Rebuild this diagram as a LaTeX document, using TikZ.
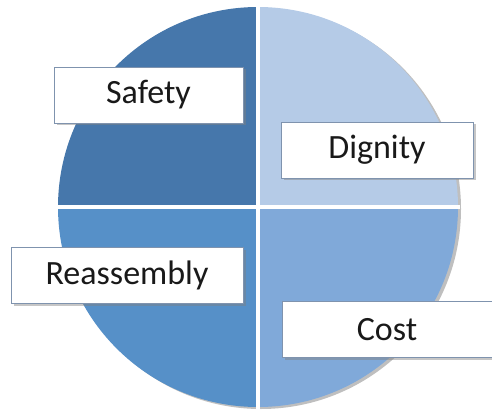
\documentclass[tikz,border=0pt]{standalone}
\usepackage{fontspec}
\setmainfont{Carlito}
\usepackage{tikz}
\usetikzlibrary{shadows,positioning}
\definecolor{qdark}{HTML}{4677AB}
\definecolor{qlight}{HTML}{B5CBE7}
\definecolor{qmid}{HTML}{5690C8}
\definecolor{qsoft}{HTML}{80A9D9}
\definecolor{boxline}{HTML}{7F93AE}
\tikzstyle{quarter} = [draw=none]
\tikzstyle{label} = [rectangle, draw=boxline, line width=0.8pt, fill=white, minimum height=56pt, text=black!90, font=\fontsize{34}{40}\selectfont, drop shadow={shadow xshift=2.5pt, shadow yshift=-2.5pt, opacity=0.45}]

\begin{document}
\begin{tikzpicture}[x=1pt,y=1pt]
\useasboundingbox (0,0) rectangle (492,410);
%----------------------------------------------------------------------------
% The circle, cut in four
\coordinate (mid) at (258,203);
\fill[black!25] ([xshift=3pt,yshift=-2pt]mid) circle (200);
\fill[quarter, qdark] (mid) -- ++(180:200) arc (180:90:200) -- cycle;
\fill[quarter, qlight] (mid) -- ++(90:200) arc (90:0:200) -- cycle;
\fill[quarter, qsoft] (mid) -- ++(0:200) arc (0:-90:200) -- cycle;
\fill[quarter, qmid] (mid) -- ++(-90:200) arc (-90:-180:200) -- cycle;
\draw[white, line width=4pt] ([yshift=202pt]mid) -- ([yshift=-202pt]mid);
\draw[white, line width=4pt] ([xshift=-202pt]mid) -- ([xshift=202pt]mid);

%----------------------------------------------------------------------------
% Labels
\node (safety) [label, minimum width=189pt] at (148.5,315) {Safety};
\node (dignity) [label, minimum width=192pt] at (377,260) {Dignity};
\node (reassembly) [label, minimum width=232pt] at (127,135) {Reassembly};
\node (cost) [label, minimum width=210pt] at (387,80.5) {Cost};
\end{tikzpicture}
\end{document}
